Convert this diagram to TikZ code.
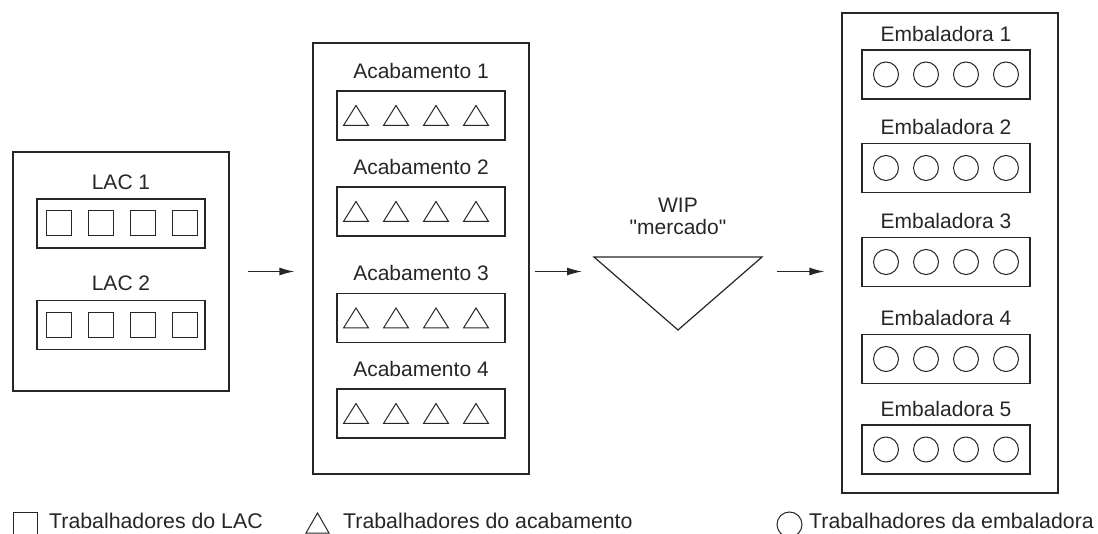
\documentclass[tikz,border=0pt]{standalone}
\usepackage{fontspec}
\setmainfont{Liberation Sans}
\usetikzlibrary{arrows.meta}

\definecolor{ink}{gray}{0.15}

\tikzset{
  bigbox/.style={draw=ink, line width=1.2pt, minimum width=216pt, inner sep=0pt},
  linebox/.style={draw=ink, line width=1.2pt, minimum width=168pt, minimum height=49pt, inner sep=0pt},
  title/.style={anchor=base, inner sep=0pt, text=ink, font=\fontsize{21}{24}\selectfont},
  keytext/.style={title, anchor=base west, font=\fontsize{21.3}{24}\selectfont},
  worker/.style={draw=ink, line width=1pt, inner sep=0pt},
  flow/.style={draw=ink, line width=1.2pt, -{Latex[length=15pt,width=8pt]}},
}

\begin{document}
\begin{tikzpicture}[x=1pt,y=-1pt]
  \useasboundingbox (0,0) rectangle (1098,534);

  % LAC
  \node[bigbox, minimum height=239pt] (lac) at (121,271.5) {};
  \foreach \n/\y in {1/223.5, 2/325}{
    \node[linebox] (lac\n) at (121,\y) {};
    \node[title] (lactitle\n) at ([yshift=9pt]lac\n.north) {LAC \n};
    \foreach \dx [count=\i] in {-62,-20,22,64}
      \node[worker, minimum size=25pt] (lac\n-\i) at (121+\dx,\y) {};
  }

  % acabamento
  \node[bigbox, minimum height=431pt] (acab) at (421,258.5) {};
  \foreach \n/\y in {1/115.5, 2/211.5, 3/318, 4/413.5}{
    \node[linebox] (acab\n) at (421,\y) {};
    \node[title] (acabtitle\n) at ([yshift=12pt]acab\n.north) {Acabamento \n};
    \foreach \dx in {-60,-20,20,60}
      \draw[worker] (416+\dx-12.5,\y+10) -- ++(12.5,-20) -- ++(12.5,20) -- cycle;
  }

  % WIP
  \coordinate (wipL) at (594,257);
  \coordinate (wipR) at (762,257);
  \coordinate (wipB) at (678,330);
  \draw[ink, line width=1.2pt, line join=miter] (wipL) -- (wipR) -- (wipB) -- cycle;
  \node[title] (wip) at (678,213) {WIP};
  \node[title] (mercado) at (678,235) {\textquotedbl mercado\textquotedbl};

  % embaladora
  \node[bigbox, minimum height=480pt] (emb) at (950,253) {};
  \foreach \n/\y in {1/74.5, 2/168, 3/262, 4/359, 5/449.5}{
    \node[linebox] (emb\n) at (946,\y) {};
    \node[title] (embtitle\n) at ([yshift=8pt]emb\n.north) {Embaladora \n};
    \foreach \dx [count=\i] in {-60,-20,20,60}
      \node[worker, circle, minimum size=25pt] (emb\n-\i) at (946+\dx,\y) {};
  }

  % flow
  \draw[flow, shorten <=18pt, shorten >=18pt] (lac.east) -- (lac.east -| acab.west);
  \draw[flow, shorten <=5pt, shorten >=12pt] (lac.east -| acab.east) -- (lac.east -| wipL);
  \draw[flow, shorten <=15pt, shorten >=17pt] (lac.east -| wipR) -- (lac.east -| emb.west);

  % legend
  \node[worker, minimum size=24pt] (keylac) at (25,524) {};
  \node[keytext] at (49,528) {Trabalhadores do LAC};
  \draw[worker] (306,533) -- (317.5,513) -- (329,533) -- cycle;
  \node[keytext] at (343,528) {Trabalhadores do acabamento};
  \node[worker, circle, minimum size=25pt] (keyemb) at (789.5,524.5) {};
  \node[keytext] at (809,528) {Trabalhadores da embaladora};
\end{tikzpicture}
\end{document}
